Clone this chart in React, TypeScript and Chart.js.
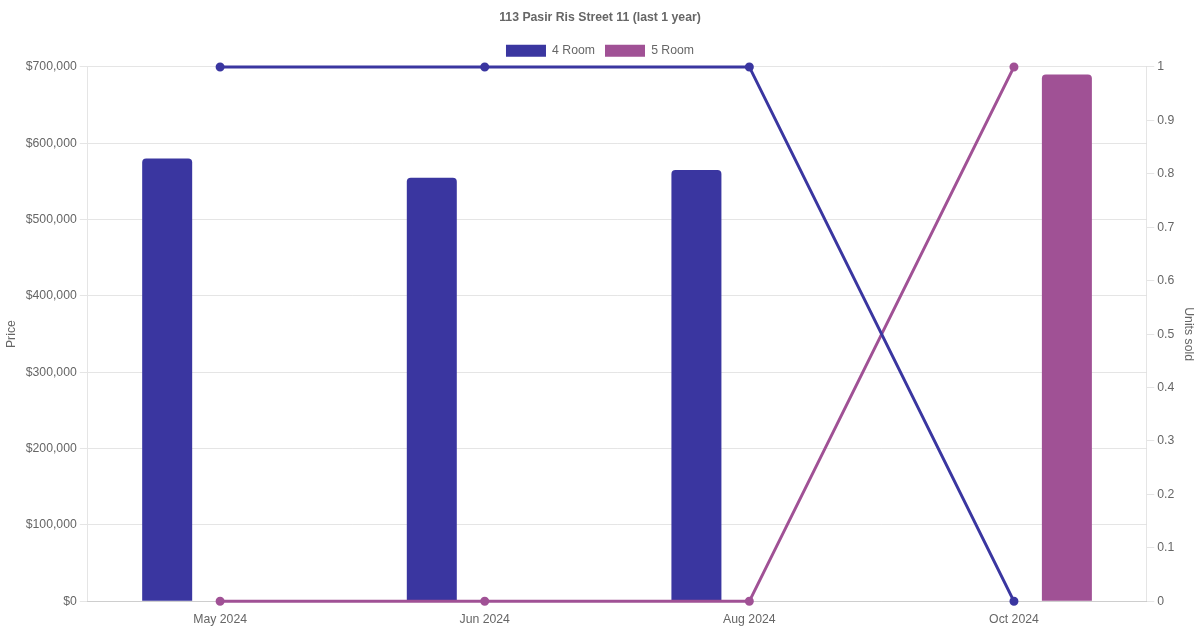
import React, { useEffect, useRef } from "react";
import { Chart, registerables } from "chart.js";

Chart.register(...registerables);

const categories = ["May 2024", "Jun 2024", "Aug 2024", "Oct 2024"];
const price4Room: (number | null)[] = [580000, 555000, 565000, null];
const price5Room: (number | null)[] = [null, null, null, 690000];
const units4Room = [1, 1, 1, 0];
const units5Room = [0, 0, 0, 1];

const COLOR_4 = "#3a36a0";
const COLOR_5 = "#a05195";

export default function App() {
  const ref = useRef<HTMLCanvasElement | null>(null);

  useEffect(() => {
    document.body.style.margin = "0";
    Chart.defaults.font.family = "'Liberation Sans', Arial, Helvetica, sans-serif";
    Chart.defaults.font.size = 12.25;
    Chart.defaults.color = "#666";
    const chart = new Chart(ref.current!, {
      type: "bar",
      data: {
        labels: categories,
        datasets: [
          {
            type: "line",
            label: "4 Room units",
            data: units4Room,
            yAxisID: "y1",
            borderColor: COLOR_4,
            backgroundColor: COLOR_4,
            borderWidth: 3,
            pointRadius: 3,
            clip: false,
            order: 0,
          },
          {
            type: "line",
            label: "5 Room units",
            data: units5Room,
            yAxisID: "y1",
            borderColor: COLOR_5,
            backgroundColor: COLOR_5,
            borderWidth: 3,
            pointRadius: 3,
            clip: false,
            order: 0,
          },
          {
            type: "bar",
            label: "4 Room",
            data: price4Room,
            yAxisID: "y",
            backgroundColor: COLOR_4,
            borderColor: COLOR_4,
            borderRadius: 4,
            maxBarThickness: 50,
            order: 1,
          },
          {
            type: "bar",
            label: "5 Room",
            data: price5Room,
            yAxisID: "y",
            backgroundColor: COLOR_5,
            borderColor: COLOR_5,
            borderRadius: 4,
            maxBarThickness: 50,
            order: 1,
          },
        ] as any,
      },
      options: {
        animation: false,
        responsive: true,
        maintainAspectRatio: false,
        plugins: {
          title: {
            display: true,
            text: "113 Pasir Ris Street 11 (last 1 year)",
            color: "#666",
            font: { size: 12.25, weight: "bold" },
          },
          legend: {
            labels: {
              filter: (item: any) => item.text === "4 Room" || item.text === "5 Room",
              boxWidth: 40,
              boxHeight: 12,
              color: "#666",
            },
          },
          tooltip: { enabled: false },
        },
        scales: {
          x: {
            grid: { display: false },
          },
          y: {
            position: "left",
            min: 0,
            max: 700000,
            ticks: {
              stepSize: 100000,
              callback: (v: any) => "$" + Number(v).toLocaleString("en-US"),
            },
            title: { display: true, text: "Price" },
          },
          y1: {
            position: "right",
            min: 0,
            max: 1,
            ticks: {
              stepSize: 0.1,
              callback: (v: any) => String(Math.round(Number(v) * 10) / 10),
            },
            grid: { drawOnChartArea: false },
            title: { display: true, text: "Units sold" },
          },
        },
      },
    });
    return () => chart.destroy();
  }, []);

  return (
    <div style={{ width: 1200, height: 630, position: "relative" }}>
      <canvas ref={ref} />
    </div>
  );
}
